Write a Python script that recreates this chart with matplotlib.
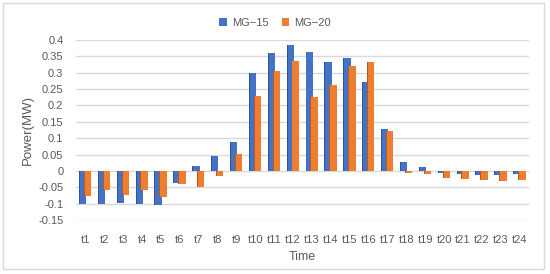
import numpy as np
import matplotlib.pyplot as plt
from matplotlib.patches import Rectangle

labels = ['t%d' % i for i in range(1, 25)]
mg15 = [-0.1, -0.1, -0.097, -0.1, -0.105, -0.036, 0.015, 0.045, 0.087, 0.30,
        0.36, 0.385, 0.362, 0.333, 0.344, 0.272, 0.129, 0.027, 0.012, -0.007,
        -0.01, -0.012, -0.012, -0.01]
mg20 = [-0.076, -0.057, -0.075, -0.057, -0.08, -0.04, -0.05, -0.015, 0.053, 0.228,
        0.305, 0.336, 0.225, 0.262, 0.321, 0.332, 0.122, -0.005, -0.008, -0.022,
        -0.025, -0.028, -0.03, -0.027]
yticks = [-0.15, -0.1, -0.05, 0, 0.05, 0.1, 0.15, 0.2, 0.25, 0.3, 0.35, 0.4]
ytick_labels = ['-0.15', '-0.1', '-0.05', '0', '0.05', '0.1', '0.15', '0.2',
                '0.25', '0.3', '0.35', '0.4']

blue, blue_dark = '#4472C4', '#2F5597'
orange, orange_dark = '#ED7D31', '#B65A1E'
txt = '#595959'

plt.rcParams['font.family'] = ['Liberation Sans', 'DejaVu Sans']

fig = plt.figure(figsize=(5.5, 2.74), dpi=100)
fig.patches.append(Rectangle((3 / 550, 5 / 274), 541 / 550, 266 / 274,
                             transform=fig.transFigure, fill=False,
                             edgecolor='#D9D9D9', linewidth=1))
ax = fig.add_axes([0.138, 0.197, 0.824, 0.657])

x = np.arange(len(labels))
w = 0.34
# darker side faces for a pseudo 3D look
ax.bar(x - 0.17, mg15, w, color=blue_dark, zorder=2)
ax.bar(x - 0.12, mg15, w, color=blue, zorder=3, label='MG\u221215')
ax.bar(x + 0.09, mg20, w, color=orange_dark, zorder=4)
ax.bar(x + 0.14, mg20, w, color=orange, zorder=5, label='MG\u221220')

ax.set_xlim(-0.5, len(labels) - 0.5)
ax.set_ylim(-0.15, 0.4)
ax.set_yticks(yticks)
ax.set_yticklabels(ytick_labels)
ax.set_xticks(x)
ax.set_xticklabels(labels)
ax.grid(axis='y', color='#D9D9D9', linewidth=1, zorder=0)
ax.set_axisbelow(True)
for s in ax.spines.values():
    s.set_visible(False)
ax.tick_params(length=0, labelsize=8, colors=txt, pad=9)
ax.tick_params(axis='x', pad=11)
ax.set_ylabel('Power(MW)', fontsize=9.5, color=txt, labelpad=3)
ax.set_xlabel('Time', fontsize=9, color=txt, labelpad=4)

h, l = ax.get_legend_handles_labels()
fig.legend(h, l, loc='center', bbox_to_anchor=(0.5, 0.917), ncol=2, frameon=False,
           fontsize=8, labelcolor=txt, handlelength=0.7, handleheight=0.7,
           columnspacing=1.2, handletextpad=0.4)

fig.savefig('out.png', dpi=100)
